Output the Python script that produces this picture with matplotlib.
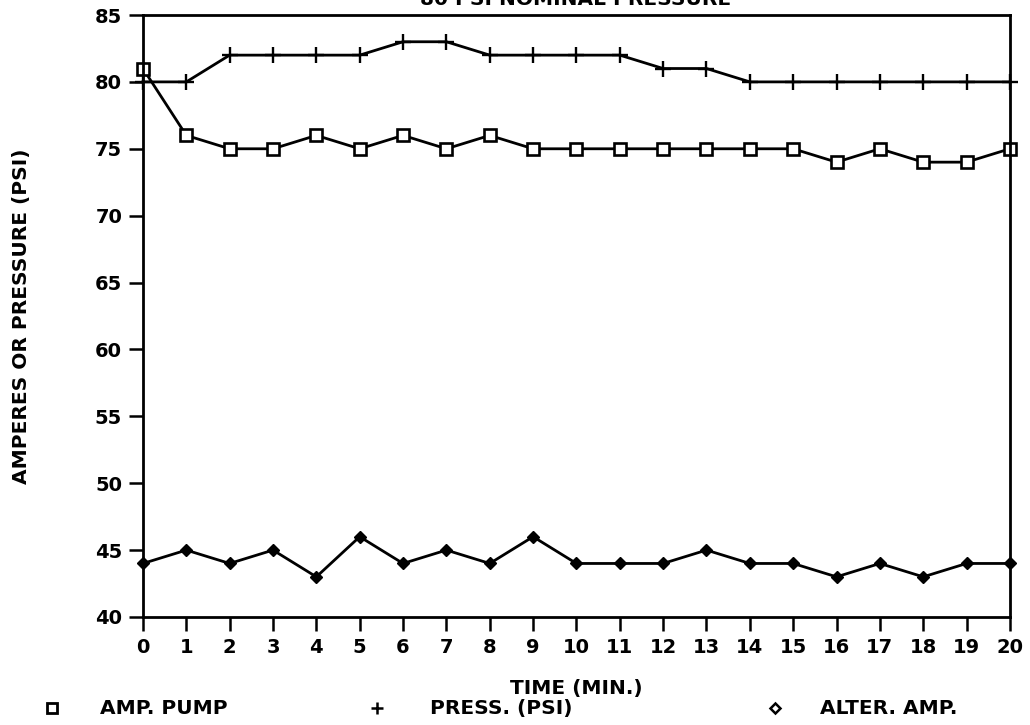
import matplotlib
matplotlib.use("Agg")
import matplotlib.pyplot as plt
from matplotlib import font_manager

# Pump test readings, one per minute
minutes = list(range(0, 21))
amp_pump = [81, 76, 75, 75, 76, 75, 76, 75, 76, 75, 75, 75, 75, 75, 75, 75, 74, 75, 74, 74, 75]
pressure_psi = [80, 80, 82, 82, 82, 82, 83, 83, 82, 82, 82, 82, 81, 81, 80, 80, 80, 80, 80, 80, 80]
alter_amp = [44, 45, 44, 45, 43, 46, 44, 45, 44, 46, 44, 44, 44, 45, 44, 44, 43, 44, 43, 44, 44]

y_ticks = [40, 45, 50, 55, 60, 65, 70, 75, 80, 85]
title_text = "80 PSI NOMINAL PRESSURE"
x_label = "TIME (MIN.)"
y_label = "AMPERES OR PRESSURE (PSI)"
legend_labels = ["AMP. PUMP", "PRESS. (PSI)", "ALTER. AMP."]

plt.rcParams["font.family"] = ["DejaVu Sans"]
plt.rcParams["font.weight"] = "bold"

tick_font = font_manager.FontProperties(family="DejaVu Sans", weight="bold", size=14)
label_font = font_manager.FontProperties(family="DejaVu Sans", weight="bold", size=14.5)

fig = plt.figure(figsize=(10.3, 7.25), dpi=100)
ax = fig.add_axes([0.1388, 0.149, 0.8417, 0.8303])

lw = 2.0
ax.plot(minutes, pressure_psi, color="black", lw=lw, marker="+", ms=12, mew=1.7, clip_on=False)
ax.plot(minutes, amp_pump, color="black", lw=lw, marker="s", ms=8, mfc="white", mew=1.9, clip_on=False)
ax.plot(minutes, alter_amp, color="black", lw=lw, marker="D", ms=6.5, mfc="black", mew=1.0, clip_on=False)

ax.set_xlim(0, 20)
ax.set_ylim(40, 85)
ax.set_xticks(minutes)
ax.set_yticks(y_ticks)
ax.tick_params(axis="both", direction="out", length=10, width=1.8, pad=5)
for lab in ax.get_xticklabels() + ax.get_yticklabels():
    lab.set_fontproperties(tick_font)
for sp in ax.spines.values():
    sp.set_linewidth(2.0)

fig.text(0.559, 0.993, title_text, ha="center", va="baseline", fontproperties=label_font)
fig.text(0.560, 0.051, x_label, ha="center", va="center", fontproperties=label_font)
fig.text(0.021, 0.564, y_label, ha="center", va="center", rotation=90, fontproperties=label_font)

# Legend row along the bottom edge
ly = 0.023
fig.lines.append(plt.Line2D([0.0505], [ly], transform=fig.transFigure, marker="s", ms=7,
                            mfc="white", mec="black", mew=2.0, ls="none"))
fig.text(0.097, ly, legend_labels[0], ha="left", va="center", fontproperties=label_font)
fig.lines.append(plt.Line2D([0.366], [ly], transform=fig.transFigure, marker="+", ms=9,
                            mec="black", mew=1.8, ls="none"))
fig.text(0.4175, ly, legend_labels[1], ha="left", va="center", fontproperties=label_font)
fig.lines.append(plt.Line2D([0.752], [ly], transform=fig.transFigure, marker="D", ms=5.5,
                            mfc="white", mec="black", mew=1.8, ls="none"))
fig.text(0.796, ly, legend_labels[2], ha="left", va="center", fontproperties=label_font)

fig.savefig("out.png", dpi=100)
